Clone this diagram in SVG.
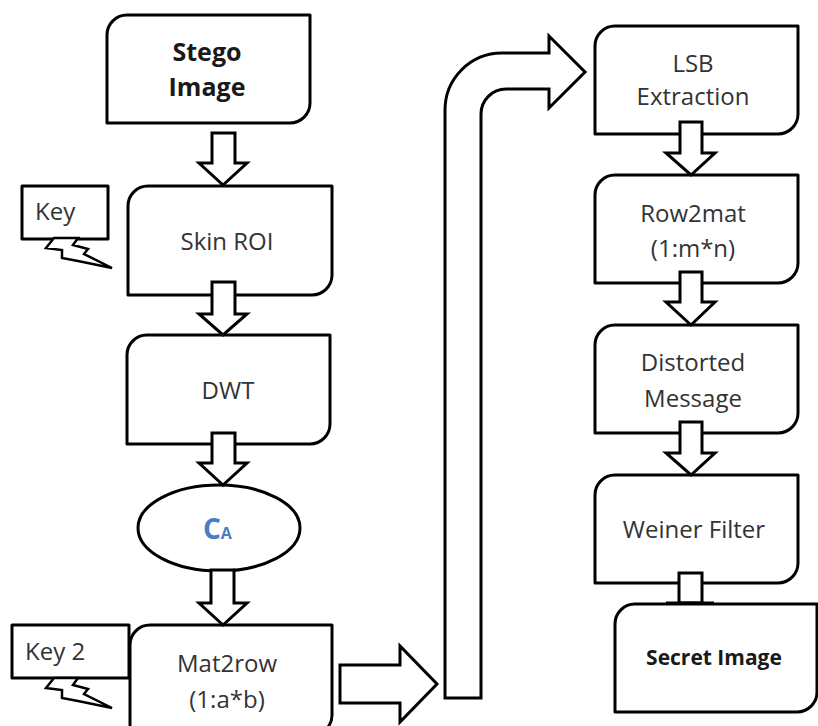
<svg xmlns="http://www.w3.org/2000/svg" width="818" height="726" viewBox="0 0 818 726">
<style>
.box{fill:#fff;stroke:#000;stroke-width:3;stroke-linejoin:round}
.arr{fill:#fff;stroke:#000;stroke-width:3;stroke-linejoin:miter}
.bolt{fill:#fff;stroke:#000;stroke-width:2.5;stroke-linejoin:miter}
.t{font-family:"Open Sans","Liberation Sans",sans-serif;font-size:24px;fill:#333;text-anchor:middle}
.b{font-weight:bold;fill:#1a1a1a}
.ca{font-family:"Open Sans","Liberation Sans",sans-serif;font-weight:bold;fill:#4a7dc4}
</style>
<rect width="818" height="726" fill="#fff"/>
<g id="stego">
<path class="box" d="M107,35 A20,20 0 0 1 127,15 H310 V103 A20,20 0 0 1 290,123 H107 Z"/>
<text class="t b" x="207" y="61" style="font-size:25px">Stego</text>
<text class="t b" x="207" y="96" style="font-size:25px">Image</text>
</g>
<g id="key1">
<rect class="box" x="22" y="186" width="86" height="53"/>
<text class="t" x="35" y="220" style="text-anchor:start">Key</text>
<polygon class="bolt" points="54,238 46,248 62,250 62,258 78,261 112,268 84,254 88,249 73,245 78,238"/>
</g>
<g id="skin">
<path class="box" d="M128,206 A20,20 0 0 1 148,186 H332 V275 A20,20 0 0 1 312,295 H128 Z"/>
<text class="t" x="227" y="250">Skin ROI</text>
</g>
<g id="dwt">
<path class="box" d="M127,355 A20,20 0 0 1 147,335 H330 V424 A20,20 0 0 1 310,444 H127 Z"/>
<text class="t" x="228" y="399">DWT</text>
</g>
<g id="ca">
<ellipse class="box" cx="219" cy="528" rx="81" ry="43"/>
<text class="ca" x="203" y="539"><tspan style="font-size:28px">C</tspan><tspan style="font-size:16px">A</tspan></text>
</g>
<g id="key2">
<rect class="box" x="12" y="625" width="117" height="53"/>
<text class="t" x="25" y="660" style="text-anchor:start">Key 2</text>
<polygon class="bolt" points="54,678 46,688 62,690 62,698 78,701 112,708 84,694 88,689 73,685 78,678"/>
</g>
<g id="mat2row">
<path class="box" d="M130,645 A20,20 0 0 1 150,625 H332 V715 A20,20 0 0 1 312,735 H130 Z"/>
<text class="t" x="227" y="672">Mat2row</text>
<text class="t" x="227" y="708">(1:a*b)</text>
</g>
<g id="lsb">
<path class="box" d="M595,46 A20,20 0 0 1 615,26 H798 V114 A20,20 0 0 1 778,134 H595 Z"/>
<text class="t" x="693" y="72">LSB</text>
<text class="t" x="693" y="105">Extraction</text>
</g>
<g id="row2mat">
<path class="box" d="M595,195 A20,20 0 0 1 615,175 H798 V263 A20,20 0 0 1 778,283 H595 Z"/>
<text class="t" x="693" y="222">Row2mat</text>
<text class="t" x="693" y="257">(1:m*n)</text>
</g>
<g id="distorted">
<path class="box" d="M595,345 A20,20 0 0 1 615,325 H798 V413 A20,20 0 0 1 778,433 H595 Z"/>
<text class="t" x="693" y="371">Distorted</text>
<text class="t" x="693" y="407">Message</text>
</g>
<g id="weiner">
<path class="box" d="M595,495 A20,20 0 0 1 615,475 H798 V563 A20,20 0 0 1 778,583 H595 Z"/>
<text class="t" x="694" y="538">Weiner Filter</text>
</g>
<g id="secret">
<path class="box" d="M615,624 A20,20 0 0 1 635,604 H817 V692 A20,20 0 0 1 797,712 H615 Z"/>
<text class="t b" x="714" y="665" style="font-size:21px">Secret Image</text>
</g>
<g id="connectors">
<path class="arr" d="M212,133 H235 V163 H247 L223,185 L199,163 H212 Z"/>
<path class="arr" d="M212,282 H235 V314 H247 L223,335 L199,314 H212 Z"/>
<path class="arr" d="M212,433 H235 V463 H247 L223,485 L199,463 H212 Z"/>
<path class="arr" d="M211,570 H234 V603 H247 L223,625 L199,603 H211 Z"/>
<path class="arr" d="M340,665 H400 V646 L437,684 L400,722 V703 H340 Z"/>
<path class="arr" d="M445,698 V110 A57,57 0 0 1 502,53 H549 V36 L585,72 L549,108 V89 H506 A25,25 0 0 0 481,114 V698 Z"/>
<path class="arr" d="M680,122 H702 V153 H715 L691,175 L666,153 H680 Z"/>
<path class="arr" d="M680,272 H702 V302 H715 L691,325 L666,302 H680 Z"/>
<path class="arr" d="M680,422 H702 V453 H715 L691,475 L666,453 H680 Z"/>
<path class="arr" d="M679,573 H702 V603 H679 Z"/>
<line x1="666" y1="603" x2="714" y2="603" stroke="#000" stroke-width="3"/>
</g>
</svg>
